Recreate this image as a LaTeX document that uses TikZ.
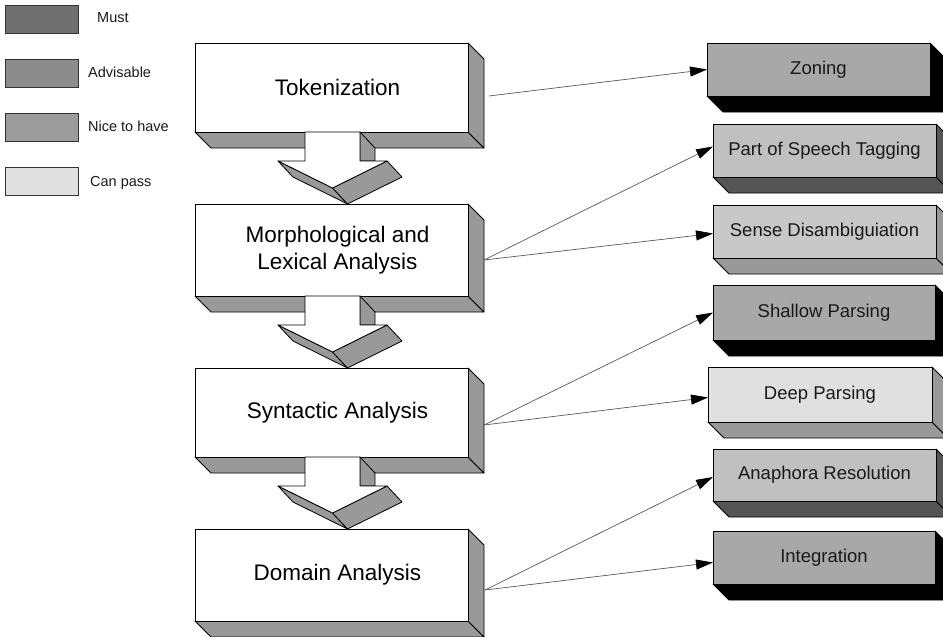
\documentclass[tikz,border=0pt]{standalone}
\usepackage{fontspec}
\setmainfont{Liberation Sans}
\usetikzlibrary{arrows.meta,calc}
\definecolor{sidegray}{RGB}{153,153,153}
\definecolor{darkside}{RGB}{85,85,85}
\definecolor{frontA}{RGB}{168,168,168}
\definecolor{frontB}{RGB}{192,192,192}
\definecolor{frontC}{RGB}{200,200,200}
\definecolor{frontD}{RGB}{224,224,224}
\definecolor{legMust}{RGB}{112,112,112}
\definecolor{legAdv}{RGB}{140,140,140}
\definecolor{legNice}{RGB}{156,156,156}
\definecolor{legPass}{RGB}{224,224,224}
\definecolor{txt}{RGB}{25,25,25}
\tikzset{
  edge/.style={draw=black, line width=0.8pt, line join=round},
  mainbox/.style={edge, fill=white, inner sep=0pt, outer sep=0pt, font=\fontsize{22.5}{27}\selectfont, text=black, align=center},
  sidebox/.style={edge, inner sep=0pt, outer sep=0pt, font=\fontsize{18.5}{22}\selectfont, text=txt},
  legbox/.style={draw=black!80, line width=0.7pt, minimum width=73pt, minimum height=28pt, inner sep=0pt},
  legtext/.style={anchor=west, inner sep=0pt, font=\fontsize{14.5}{17}\selectfont, text=txt},
  conn/.style={draw=black!65, line width=0.7pt, -{Triangle[length=17pt,width=10pt,color=black]}}
}
% #1 name, #2 x1, #3 y1, #4 w, #5 h, #6 front, #7 side, #8 text, #9 style
\newcommand{\extbox}[9]{%
  \filldraw[edge, fill=#7] (#2,#3+#5) -- (#2+#4,#3+#5) -- (#2+#4+16,#3+#5+16) -- (#2+16,#3+#5+16) -- cycle;
  \filldraw[edge, fill=#7] (#2+#4,#3) -- (#2+#4+16,#3+16) -- (#2+#4+16,#3+#5+16) -- (#2+#4,#3+#5) -- cycle;
  \node[#9, fill=#6, minimum width=#4pt, minimum height=#5pt] (#1) at ({#2+#4/2},{#3+#5/2}) {#8};
}
% block arrow below a main box, #1 = y of the box bottom
\newcommand{\flowarrow}[1]{%
  \filldraw[edge, fill=sidegray] (360,#1) -- (375,#1+16) -- (375,#1+29) -- (360,#1+29) -- cycle;
  \filldraw[edge, fill=sidegray] (278,#1+29) -- (332.5,#1+56) -- (347.5,#1+72) -- (293,#1+45) -- cycle;
  \filldraw[edge, fill=sidegray] (332.5,#1+56) -- (387,#1+29) -- (402,#1+45) -- (347.5,#1+72) -- cycle;
  \filldraw[edge, fill=white] (305,#1) -- (360,#1) -- (360,#1+29) -- (387,#1+29) -- (332.5,#1+56) -- (278,#1+29) -- (305,#1+29) -- cycle;
}
\begin{document}
\begin{tikzpicture}[x=1pt, y=-1pt]
\useasboundingbox (0,0) rectangle (943,637);

% legend
\node[legbox, fill=legMust] (lmust) at (41.5,19) {};
\node[legbox, fill=legAdv] (ladv) at (41.5,73) {};
\node[legbox, fill=legNice] (lnice) at (41.5,127.5) {};
\node[legbox, fill=legPass] (lpass) at (41.5,181.5) {};
\node[legtext] (tmust) at (97,18) {Must};
\node[legtext] (tadv) at (88,72) {Advisable};
\node[legtext] (tnice) at (88,126) {Nice to have};
\node[legtext] (tpass) at (90,183) {Can pass};

% main column
\extbox{tok}{195}{43}{273}{89}{white}{sidegray}{\hspace*{12pt}Tokenization}{mainbox}
\flowarrow{132}
\extbox{mor}{195}{204}{273}{92}{white}{sidegray}{\hspace*{12pt}Morphological and\\\hspace*{12pt}Lexical Analysis}{mainbox}
\flowarrow{296}
\extbox{syn}{195}{368}{273}{89}{white}{sidegray}{\hspace*{12pt}Syntactic Analysis}{mainbox}
\flowarrow{457}
\extbox{dom}{195}{529}{273}{92}{white}{sidegray}{\hspace*{12pt}Domain Analysis}{mainbox}

% right column
\extbox{zon}{707}{43}{223}{53}{frontA}{black}{Zoning}{sidebox}
\extbox{pos}{713}{124}{223}{53}{frontB}{darkside}{Part of Speech Tagging}{sidebox}
\extbox{sen}{713}{205}{223}{53}{frontC}{sidegray}{Sense Disambiguiation}{sidebox}
\extbox{sha}{713}{285}{222}{55}{frontA}{black}{Shallow Parsing}{sidebox}
\extbox{dee}{708}{367}{224}{55}{frontD}{sidegray}{Deep Parsing}{sidebox}
\extbox{ana}{713}{449}{223}{52}{frontB}{darkside}{Anaphora Resolution}{sidebox}
\extbox{int}{713}{531}{222}{53}{frontA}{black}{Integration}{sidebox}

% connector start points on the side faces
\coordinate (tokR) at (489,96);
\coordinate (morR) at (484,260);
\coordinate (synR) at (484,425);
\coordinate (domR) at (485,590);

\draw[conn] (tokR) -- (zon.west);
\draw[conn] (morR) -- ($(pos.west)+(0,-4)$);
\draw[conn] (morR) -- ($(sen.west)+(0,2)$);
\draw[conn] (synR) -- (sha.west);
\draw[conn] (synR) -- ($(dee.west)+(0,3)$);
\draw[conn] (domR) -- ($(ana.west)+(0,2)$);
\draw[conn] (domR) -- ($(int.west)+(0,5)$);
\end{tikzpicture}
\end{document}
